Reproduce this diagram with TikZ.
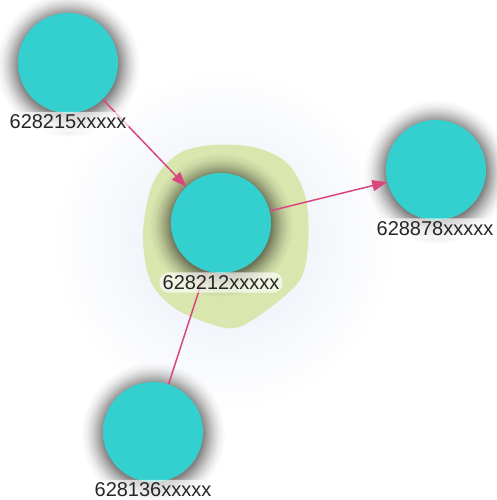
\documentclass[tikz,border=0pt]{standalone}
\usepackage{fontspec}
\setmainfont{Liberation Sans}
\usetikzlibrary{arrows.meta,fadings,backgrounds}

\definecolor{ballin}{RGB}{52,208,208}
\definecolor{ballout}{RGB}{68,223,223}
\definecolor{linkpink}{RGB}{216,72,126}
\definecolor{blobgreen}{RGB}{217,230,174}
\definecolor{halo}{RGB}{230,235,246}

\pgfdeclareradialshading{ballshade}{\pgfpointorigin}{color(0bp)=(ballin); color(30bp)=(ballin); color(50bp)=(ballout)}
\pgfdeclareradialshading{shadowshade}{\pgfpointorigin}{color(0bp)=(white); color(17bp)=(white); color(19bp)=(black!35); color(21bp)=(black!65); color(23bp)=(black!88); color(25bp)=(black); color(50bp)=(black)}
\pgfdeclarefading{shadowfade}{\pgfuseshading{shadowshade}}
\tikzfading[name=halofade, inner color=transparent!0, outer color=transparent!100]

\tikzset{
	ball/.style={circle, minimum size=100pt, inner sep=0pt, shading=ballshade},
	tag/.style={font=\fontsize{20}{23}\selectfont, text=black!85, fill=white, fill opacity=0.65, text opacity=1, rounded corners=9pt, inner xsep=3pt, inner ysep=3pt},
	link/.style={draw=linkpink, line width=1.5pt},
	tip/.style={-{Triangle[length=15pt,width=11pt]}, fill=linkpink}
}

\begin{document}
\begin{tikzpicture}[x=1pt, y=-1pt]
		\useasboundingbox (0,0) rectangle (496,500);

		\node[ball] (n215) at (68, 63) {};
		\node[ball] (n212) at (221, 223) {};
		\node[ball] (n878) at (436, 170) {};
		\node[ball] (n136) at (153, 432) {};

		\begin{scope}[on background layer]
			% halo and group blob
			\fill[halo, path fading=halofade] (224, 240) circle (170pt);
			\fill[blobgreen] plot[smooth cycle, tension=0.55] coordinates {(213,145) (253,147) (282,159) (298,178) (307,205) (308,245) (300,280) (267,310) (235,328) (205,322) (173,307) (150,280) (143,233) (153,183) (178,154)};
			% shadows
			\foreach \n in {n215, n212, n878, n136}
				\fill[black, opacity=0.5, path fading=shadowfade] ([yshift=-2pt]\n.center) circle (72pt);
		\end{scope}

		\draw[link, tip] (n215) -- (n212);
		\draw[link, tip] (n212) -- (n878);
		\draw[link] (n212) -- (n136);

		\node[tag] (t215) at (68, 122) {628215xxxxx};
		\node[tag] (t212) at (221, 282.5) {628212xxxxx};
		\node[tag] (t878) at (435, 228.5) {628878xxxxx};
		\node[tag] (t136) at (153, 490) {628136xxxxx};
	\end{tikzpicture}
\end{document}
